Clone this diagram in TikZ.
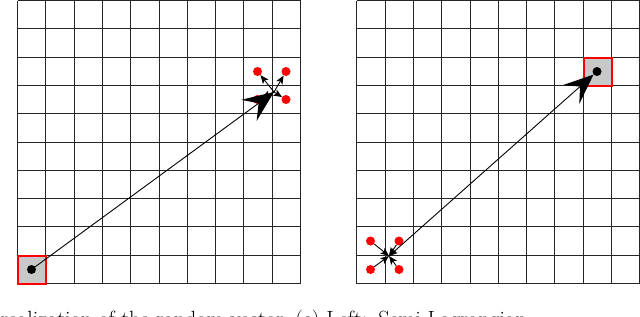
\documentclass[tikz,border=0pt]{standalone}
\usetikzlibrary{arrows.meta}
\definecolor{cellgray}{RGB}{200,200,200}
\begin{document}
\begin{tikzpicture}[x=1pt,y=-1pt,
  gridline/.style={line width=1.3pt, black!85},
  hifill/.style={fill=cellgray},
  hiborder/.style={red, line width=2pt},
  reddot/.style={circle, fill=red, inner sep=0pt, minimum size=9pt},
  blackdot/.style={circle, fill=black, inner sep=0pt, minimum size=9pt},
  bigarrow/.style={line width=0.9pt, -{Stealth[length=31pt,width=26pt,inset=12pt]}},
  smallarrow/.style={line width=0.9pt, -{Stealth[length=8.5pt,width=7pt,inset=2pt]}},
  twoarrow/.style={line width=0.9pt, {Stealth[length=8.5pt,width=7pt,inset=2pt]}-{Stealth[length=30pt,width=25pt,inset=12pt]}},
  captext/.style={font=\fontsize{22}{26}\selectfont, inner sep=0pt}
]
\useasboundingbox (0,0) rectangle (640,316);

% ---------- highlighted cells (fill) ----------
\fill[hifill] (17.5, 255.5) rectangle (45.5, 283.5);
\fill[hifill] (583.5, 57.5) rectangle (611.5, 85.5);

% ---------- grids (line centres snapped to pixel centres) ----------
\foreach \ox in {17, 356.3} {
  \pgfmathsetmacro\xa{round(\ox)+0.5}
  \pgfmathsetmacro\xb{round(\ox+283)+0.5}
  \foreach \i in {0,...,10} {
    \pgfmathsetmacro\gx{round(\ox+\i*28.3)+0.5}
    \pgfmathsetmacro\gy{round(\i*28.3)+0.5}
    \draw[gridline] (\gx, 0.5) -- (\gx, 283.5);
    \draw[gridline] (\xa, \gy) -- (\xb, \gy);
  }
}

% ---------- left panel nodes ----------
\node[blackdot] (srcL) at (31.5, 269.5) {};
\coordinate (P) at (274, 92);
\node[reddot] (rL1) at (257.5, 71.5) {};
\node[reddot] (rL2) at (286, 71.5) {};
\node[reddot] (rL3) at (257.5, 99.5) {};
\node[reddot] (rL4) at (286, 99.5) {};

% ---------- right panel nodes ----------
\node[blackdot] (tgtR) at (597, 71.5) {};
\coordinate (Q) at (389, 256);
\node[reddot] (rR1) at (370.5, 241) {};
\node[reddot] (rR2) at (399, 241) {};
\node[reddot] (rR3) at (370.5, 269.5) {};
\node[reddot] (rR4) at (399, 269.5) {};

% ---------- red borders of the highlighted cells ----------
\draw[hiborder] (17.5, 255.5) -- (45.5, 255.5) -- (45.5, 283.5) -- (17.5, 283.5) -- cycle;
\draw[hiborder] (583.5, 57.5) -- (611.5, 57.5) -- (611.5, 85.5) -- (583.5, 85.5) -- cycle;

% ---------- connectors ----------
\draw[bigarrow] (srcL) -- (P);
\draw[smallarrow] (P) -- (rL1);
\draw[smallarrow] (P) -- (rL2);
\draw[smallarrow] (P) -- (rL3);
\draw[smallarrow] (P) -- (rL4);

\draw[smallarrow] (rR1) -- (Q);
\draw[smallarrow] (rR2) -- (Q);
\draw[smallarrow] (rR3) -- (Q);
\draw[smallarrow] (rR4) -- (Q);
\draw[twoarrow] (Q) -- (tgtR);

% ---------- captions (cut by the lower edge) ----------
\node[captext, anchor=base east] (capL) at (284, 326) {realization of the random vector};
\node[captext, anchor=base west] (capR) at (295, 326) {(c) Left:\hskip 11pt Semi-Lagrangian};
\end{tikzpicture}
\end{document}
